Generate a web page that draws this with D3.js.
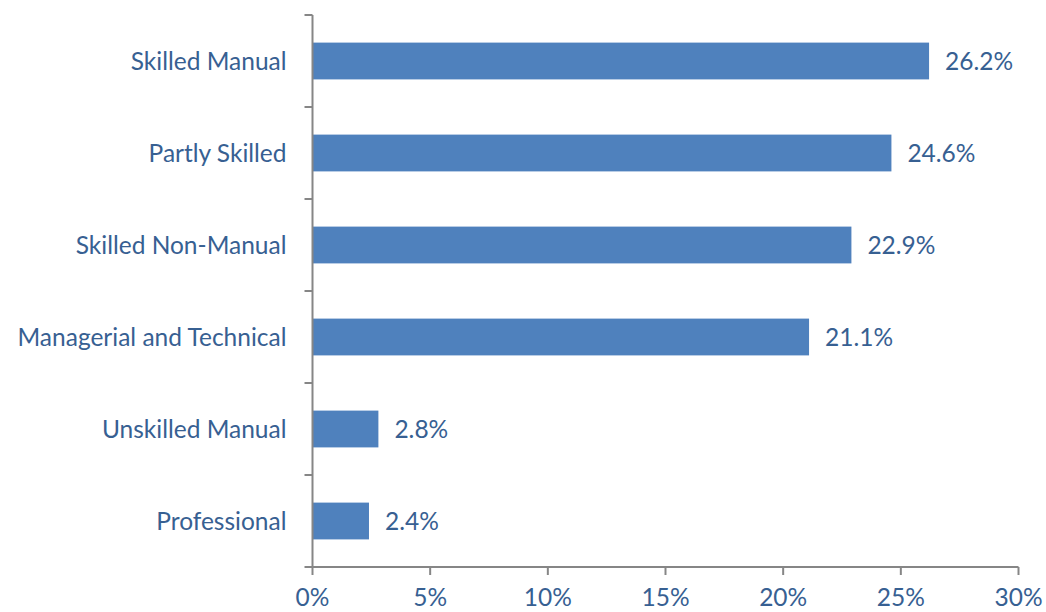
<!DOCTYPE html>
<html>
<head>
<meta charset="utf-8">
<script src="https://cdn.jsdelivr.net/npm/d3@7"></script>
<style>
  body { margin: 0; background: #fff; }
  svg text { font-family: Lato, "Open Sans", sans-serif; fill: #376092; }
</style>
</head>
<body>
<svg id="chart" width="1046" height="612"></svg>
<script>
// Occupational class shares, top to bottom
const categories = ["Skilled Manual", "Partly Skilled", "Skilled Non-Manual",
                    "Managerial and Technical", "Unskilled Manual", "Professional"];
const values = [26.2, 24.6, 22.9, 21.1, 2.8, 2.4];
const xTicks = [0, 5, 10, 15, 20, 25, 30];

const svg = d3.select("#chart");
const plotLeft = 312.5, plotRight = 1018.5, plotTop = 15, plotBottom = 567;
const fontSize = "24.5px";

const x = d3.scaleLinear().domain([0, 30]).range([plotLeft, plotRight]);
const y = d3.scaleBand().domain(categories).range([plotTop, plotBottom]).paddingInner(0.6).paddingOuter(0.3);

// Bars
svg.append("g").selectAll("rect")
    .data(categories)
    .enter().append("rect")
    .attr("x", x(0))
    .attr("y", d => y(d))
    .attr("width", (d, i) => x(values[i]) - x(0))
    .attr("height", y.bandwidth())
    .style("fill", "#4F81BD");

// Value labels
svg.append("g").selectAll("text")
    .data(categories)
    .enter().append("text")
    .attr("x", (d, i) => x(values[i]) + 16)
    .attr("y", d => y(d) + y.bandwidth() / 2)
    .attr("dy", "0.36em")
    .style("font-size", fontSize)
    .text((d, i) => values[i].toFixed(1) + "%");

// Category axis
const step = (plotBottom - plotTop) / categories.length;
const yAxis = svg.append("g");
yAxis.append("line")
    .attr("x1", plotLeft).attr("x2", plotLeft)
    .attr("y1", plotTop).attr("y2", plotBottom)
    .style("stroke", "#868686").style("stroke-width", 2);
yAxis.selectAll(".tick")
    .data(d3.range(categories.length + 1))
    .enter().append("line")
    .attr("class", "tick")
    .attr("x1", plotLeft - 8).attr("x2", plotLeft)
    .attr("y1", i => plotTop + i * step).attr("y2", i => plotTop + i * step)
    .style("stroke", "#868686").style("stroke-width", 2);
yAxis.selectAll("text")
    .data(categories)
    .enter().append("text")
    .attr("x", plotLeft - 26)
    .attr("y", d => y(d) + y.bandwidth() / 2)
    .attr("dy", "0.36em")
    .attr("text-anchor", "end")
    .style("font-size", fontSize)
    .text(d => d);

// Value axis
const xAxis = svg.append("g");
xAxis.append("line")
    .attr("x1", plotLeft).attr("x2", plotRight)
    .attr("y1", plotBottom).attr("y2", plotBottom)
    .style("stroke", "#868686").style("stroke-width", 2);
xAxis.selectAll("line.tick")
    .data(xTicks)
    .enter().append("line")
    .attr("class", "tick")
    .attr("x1", d => x(d)).attr("x2", d => x(d))
    .attr("y1", plotBottom).attr("y2", plotBottom + 8)
    .style("stroke", "#868686").style("stroke-width", 2);
xAxis.selectAll("text")
    .data(xTicks)
    .enter().append("text")
    .attr("x", d => x(d))
    .attr("y", 606)
    .attr("text-anchor", "middle")
    .style("font-size", fontSize)
    .text(d => d + "%");
</script>
</body>
</html>
